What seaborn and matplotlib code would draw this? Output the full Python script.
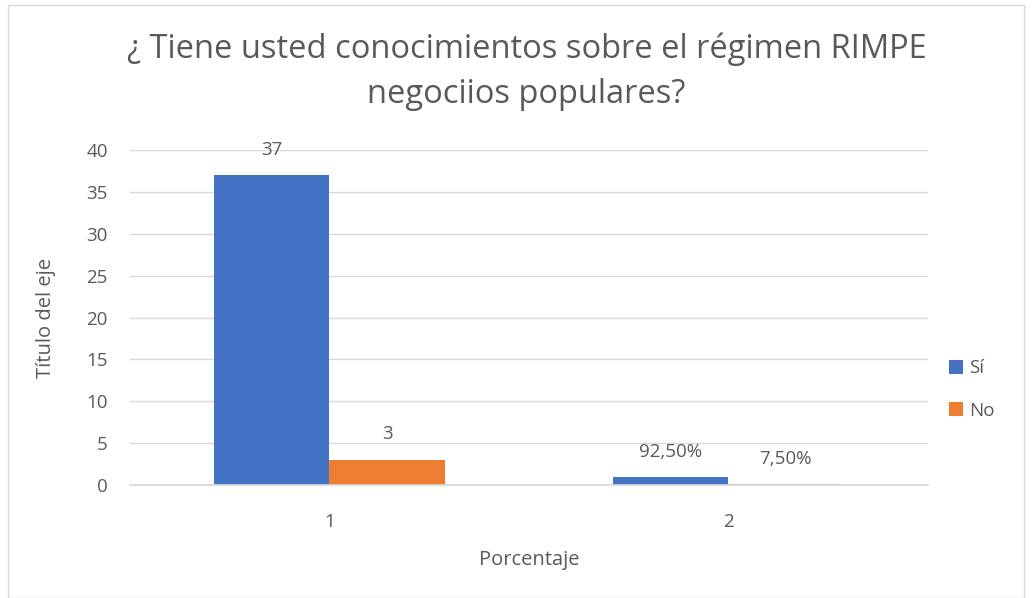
import matplotlib
matplotlib.use("Agg")
import matplotlib.pyplot as plt
import pandas as pd
import seaborn as sns
from matplotlib.patches import Rectangle

categories = ["1", "2"]
series_names = ["Sí", "No"]
si_values = [37, 0.925]
no_values = [3, 0.075]
si_labels = ["37", "92,50%"]
no_labels = ["3", "7,50%"]
y_ticks = [0, 5, 10, 15, 20, 25, 30, 35, 40]

colors = {"Sí": "#4472C4", "No": "#ED7D31"}
text_color = "#595959"

sns.set_theme(style="white")
plt.rcParams["font.family"] = ["Open Sans", "DejaVu Sans"]

df = pd.DataFrame({
    "categoria": categories * 2,
    "serie": [series_names[0]] * len(categories) + [series_names[1]] * len(categories),
    "valor": si_values + no_values,
})

fig = plt.figure(figsize=(10.32, 5.98), dpi=100)
ax = fig.add_axes([0.126, 0.189, 0.773, 0.560])

sns.barplot(
    data=df, x="categoria", y="valor", hue="serie",
    order=categories, hue_order=series_names,
    palette=colors, width=0.577, saturation=1, linewidth=0,
    ax=ax, legend=True,
)

ax.set_ylim(0, 40)
ax.set_yticks(y_ticks)
ax.set_xlim(-0.5, 1.5)
ax.yaxis.grid(True, color="#D9D9D9", linewidth=1)
ax.set_axisbelow(True)
for side in ["top", "right", "left"]:
    ax.spines[side].set_visible(False)
ax.spines["bottom"].set_color("#D9D9D9")
ax.tick_params(axis="both", length=0, labelsize=13.5, colors=text_color)
ax.tick_params(axis="y", pad=16)
ax.tick_params(axis="x", pad=20)

labels_by_series = [si_labels, no_labels]
for container, labels in zip(ax.containers, labels_by_series):
    ax.bar_label(container, labels=labels, padding=12, fontsize=13.5, color=text_color)

ax.set_xlabel("Porcentaje", fontsize=14.5, color=text_color, labelpad=14)
ax.set_ylabel("Título del eje", fontsize=14.5, color=text_color, labelpad=22)

fig.suptitle("¿ Tiene usted conocimientos sobre el régimen RIMPE\nnegociios populares?",
             fontsize=23.5, color=text_color, y=0.945, x=0.51, linespacing=1.45)

ax.legend(loc="center left", bbox_to_anchor=(1.005, 0.285), frameon=False,
          fontsize=13.5, labelcolor=text_color, handlelength=0.75, handleheight=0.75,
          handletextpad=0.35, labelspacing=1.3)

fig.patches.append(Rectangle((0.008, 0.0), 0.984, 0.992, transform=fig.transFigure,
                             fill=False, edgecolor="#D9D9D9", linewidth=1))

fig.savefig("out.png", dpi=100)
